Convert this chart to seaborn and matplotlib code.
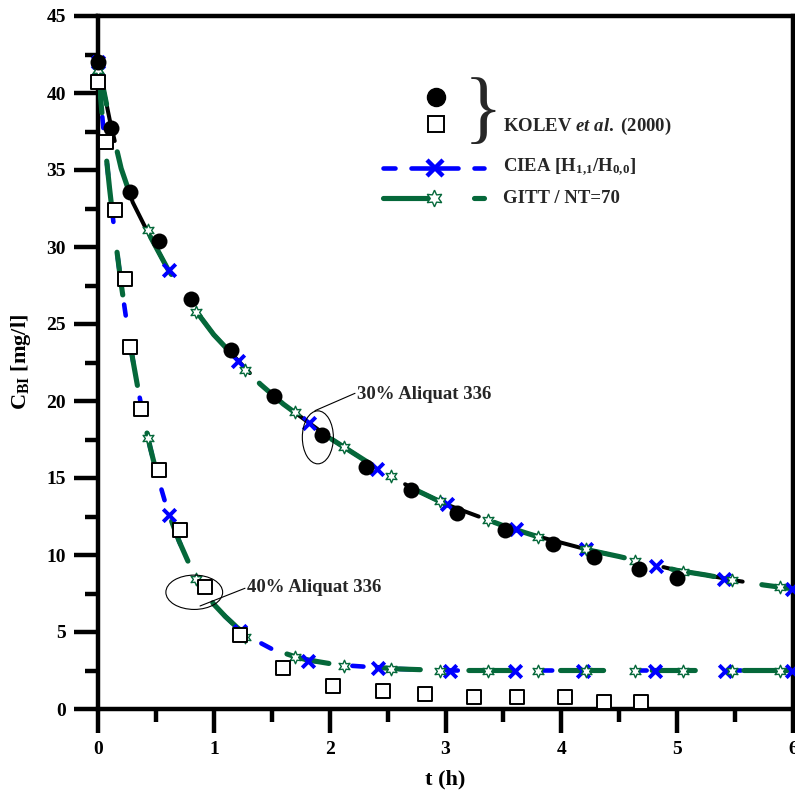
import numpy as np
import pandas as pd
import seaborn as sns
import matplotlib
matplotlib.use("Agg")
import matplotlib.pyplot as plt
from matplotlib.patches import Ellipse

# ---------------- data ----------------
# experimental points, KOLEV et al. (2000)
t30_obs = [0, 0.11, 0.28, 0.53, 0.80, 1.15, 1.52, 1.93, 2.31, 2.70, 3.10, 3.51, 3.93, 4.28, 4.67, 5.00]
c30_obs = [42.0, 37.7, 33.6, 30.4, 26.6, 23.3, 20.3, 17.8, 15.7, 14.2, 12.7, 11.6, 10.7, 9.9, 9.1, 8.5]

t40_obs = [0, 0.07, 0.15, 0.23, 0.28, 0.37, 0.53, 0.71, 0.92, 1.23, 1.60, 2.03, 2.46, 2.82, 3.25, 3.62, 4.03, 4.37, 4.69]
c40_obs = [40.7, 36.8, 32.4, 27.9, 23.5, 19.5, 15.5, 11.6, 7.9, 4.8, 2.65, 1.5, 1.15, 0.95, 0.75, 0.75, 0.75, 0.45, 0.45]

# model curves
t30_fit = [0, 0.1, 0.2, 0.3, 0.4, 0.5, 0.6, 0.8, 1.0, 1.2, 1.4, 1.6, 1.8, 2.0, 2.25, 2.5, 2.75, 3.0,
           3.25, 3.5, 3.75, 4.0, 4.25, 4.5, 4.75, 5.0, 5.25, 5.5, 5.75, 6.0]
c30_fit = [42.0, 38.3, 35.1, 32.9, 31.4, 30.0, 28.6, 26.3, 24.3, 22.7, 21.1, 19.8, 18.7, 17.6, 16.4, 15.2,
           14.2, 13.3, 12.6, 11.9, 11.3, 10.8, 10.3, 9.9, 9.45, 9.0, 8.7, 8.35, 8.05, 7.8]

t40_fit = [0, 0.05, 0.1, 0.15, 0.2, 0.25, 0.3, 0.35, 0.4, 0.45, 0.5, 0.6, 0.7, 0.8, 0.9, 1.0, 1.1, 1.2,
           1.3, 1.4, 1.5, 1.6, 1.7, 1.8, 2.0, 2.2, 2.4, 2.6, 2.8, 3.0, 3.5, 4.0, 4.5, 5.0, 5.5, 6.0]
c40_fit = [41.5, 37.4, 33.8, 30.5, 27.6, 25.0, 22.7, 20.6, 18.7, 17.0, 15.5, 12.9, 10.9, 9.2, 7.9, 6.8,
           6.0, 5.3, 4.7, 4.3, 3.9, 3.65, 3.4, 3.2, 2.95, 2.8, 2.7, 2.6, 2.55, 2.5, 2.5, 2.5, 2.5, 2.5, 2.5, 2.5]

# CIEA markers (x)
t30_ciea = [0, 0.61, 1.21, 1.82, 2.41, 3.01, 3.61, 4.21, 4.82, 5.40, 5.99]
c30_ciea = [42.0, 28.5, 22.6, 18.6, 15.6, 13.3, 11.7, 10.4, 9.3, 8.45, 7.8]
t40_ciea = [0, 0.61, 1.23, 1.81, 2.42, 3.04, 3.60, 4.19, 4.81, 5.41, 5.99]
c40_ciea = [41.5, 12.6, 5.07, 3.1, 2.63, 2.5, 2.5, 2.5, 2.5, 2.5, 2.5]

# GITT markers (star)
t_gitt = [0, 0.43, 0.85, 1.27, 1.70, 2.12, 2.53, 2.95, 3.37, 3.80, 4.21, 4.64, 5.05, 5.47, 5.89]
c30_gitt = [41.5, 31.1, 25.8, 22.0, 19.3, 17.0, 15.1, 13.5, 12.3, 11.2, 10.4, 9.6, 8.9, 8.4, 7.9]
c40_gitt = [41.5, 17.6, 8.43, 4.7, 3.38, 2.8, 2.59, 2.5, 2.5, 2.5, 2.5, 2.5, 2.5, 2.5, 2.5]

x_ticks = [0, 1, 2, 3, 4, 5, 6]
y_ticks = [0, 5, 10, 15, 20, 25, 30, 35, 40, 45]

# ---------------- style ----------------
sns.set_theme(style="white")
plt.rcParams["font.family"] = ["Liberation Serif", "DejaVu Serif"]
plt.rcParams["font.weight"] = "bold"
plt.rcParams["mathtext.fontset"] = "custom"
plt.rcParams["mathtext.rm"] = "Liberation Serif:bold"
plt.rcParams["mathtext.it"] = "Liberation Serif:italic:bold"
plt.rcParams["mathtext.bf"] = "Liberation Serif:bold"
plt.rcParams["lines.scale_dashes"] = False

GREEN = "#05683a"
BLUE = "#0000ff"

fig = plt.figure(figsize=(7.95, 7.94), dpi=100)
ax = fig.add_axes([98 / 795, 1 - 709 / 794, 695 / 795, 693 / 794])

# lines
sns.lineplot(x=t30_fit, y=c30_fit, ax=ax, color="black", linewidth=2.9, sort=False, estimator=None,
             linestyle=(0, (58, 40)), dash_capstyle="round", zorder=2, legend=False)
sns.lineplot(x=t30_fit, y=c30_fit, ax=ax, color=GREEN, linewidth=3.7, sort=False, estimator=None,
             linestyle=(0, (31, 35)), dash_capstyle="round", zorder=3, legend=False)
sns.lineplot(x=t40_fit, y=c40_fit, ax=ax, color=BLUE, linewidth=3.3, sort=False, estimator=None,
             linestyle=(0, (8, 26)), dash_capstyle="round", zorder=2, legend=False)
sns.lineplot(x=t40_fit, y=c40_fit, ax=ax, color=GREEN, linewidth=3.7, sort=False, estimator=None,
             linestyle=(0, (31, 35)), dash_capstyle="round", zorder=3, legend=False)

# markers on model curves
for tt, cc in [(t30_ciea, c30_ciea), (t40_ciea, c40_ciea)]:
    sns.scatterplot(x=tt, y=cc, ax=ax, marker="x", s=9 ** 2, color=BLUE, linewidth=2.8,
                    zorder=4, clip_on=False, legend=False)
for cc in [c30_gitt, c40_gitt]:
    sns.scatterplot(x=t_gitt, y=cc, ax=ax, marker=(6, 1, 0), s=9 ** 2, color="white",
                    edgecolor=GREEN, linewidth=1.0, zorder=5, clip_on=False, legend=False)

# experimental points
sns.scatterplot(x=t30_obs, y=c30_obs, ax=ax, marker="o", s=11.5 ** 2, color="black",
                edgecolor="black", linewidth=0, zorder=6, clip_on=False, legend=False)
sns.scatterplot(x=t40_obs, y=c40_obs, ax=ax, marker="s", s=10 ** 2, color="white",
                edgecolor="black", linewidth=1.4, zorder=6, clip_on=False, legend=False)

# axes
ax.set_xlim(0, 6)
ax.set_ylim(0, 45)
ax.set_xticks(x_ticks)
ax.set_xticklabels([str(v) for v in x_ticks])
ax.set_xticks(np.arange(0.5, 6, 1), minor=True)
ax.set_yticks(y_ticks)
ax.set_yticklabels([str(v) for v in y_ticks])
ax.set_yticks(np.arange(2.5, 45, 5), minor=True)
ax.tick_params(which="both", bottom=True, left=True, top=False, right=False, direction="out",
               color="black", width=3.2)
ax.tick_params(which="major", length=17, labelsize=14, pad=6, labelcolor="black")
ax.tick_params(which="minor", length=9.5)
for s in ax.spines.values():
    s.set_visible(True)
    s.set_color("black")
    s.set_linewidth(3.2)

ax.set_xlabel("t (h)", fontsize=16, fontweight="bold", color="black")
ax.set_ylabel(r"C$_{\rm BI}$ [mg/l]", fontsize=16, fontweight="bold", color="black")
ax.xaxis.set_label_coords(0.5, -0.088)
ax.yaxis.label.set_va("center")
ax.yaxis.label.set_ha("center")
ax.yaxis.set_label_coords(-0.111, 0.5)

# annotations
ax.add_patch(Ellipse((1.898, 17.64), 0.268, 3.44, fill=False, lw=0.8, ec="black", zorder=7))
ax.plot([1.873, 2.219], [19.37, 20.5], color="black", lw=0.8, zorder=7)
ax.text(2.233, 20.39, "30% Aliquat 336", fontsize=13.5, fontweight="bold", va="center", ha="left")

ax.add_patch(Ellipse((0.831, 7.58), 0.49, 2.23, fill=False, lw=0.8, ec="black", zorder=7))
ax.plot([0.881, 1.269], [6.69, 7.84], color="black", lw=0.8, zorder=7)
ax.text(1.285, 7.86, "40% Aliquat 336", fontsize=13.5, fontweight="bold", va="center", ha="left")

# custom legend
tr = ax.transAxes
ax.plot([0.486], [0.883], marker="o", ms=13, color="black", transform=tr, clip_on=False)
ax.plot([0.486], [0.844], marker="s", ms=11, mfc="white", mec="black", mew=1.4, transform=tr, clip_on=False)
ax.text(0.554, 0.860, "}", fontsize=58, fontweight="normal", family="Liberation Serif",
        transform=tr, ha="center", va="center")
ax.text(0.583, 0.841, r"KOLEV $\it{et}$ $\it{al.}$ (2000)", fontsize=13.5, fontweight="bold",
        transform=tr, ha="left", va="center")

y1 = 0.781
for xa, xb in [(0.410, 0.428), (0.450, 0.518), (0.541, 0.555)]:
    ax.plot([xa, xb], [y1, y1], color=BLUE, lw=3.3, solid_capstyle="round", transform=tr, clip_on=False)
ax.plot([0.485], [y1], marker="x", ms=12, mew=3.2, color=BLUE, transform=tr, clip_on=False)
ax.text(0.583, y1, r"CIEA [H$_{1{,}1}$/H$_{0{,}0}$]", fontsize=13.5, fontweight="bold",
        transform=tr, ha="left", va="center")

y2 = 0.737
ax.plot([0.410, 0.475], [y2, y2], color=GREEN, lw=3.7, solid_capstyle="round", transform=tr, clip_on=False)
ax.plot([0.541, 0.555], [y2, y2], color=GREEN, lw=3.7, solid_capstyle="round", transform=tr, clip_on=False)
ax.plot([0.484], [y2], marker=(6, 1, 0), ms=12, mfc="white", mec=GREEN, mew=1.0, transform=tr, clip_on=False)
ax.text(0.583, y2, "GITT / NT=70", fontsize=13.5, fontweight="bold",
        transform=tr, ha="left", va="center")

fig.savefig("out.png", dpi=100)
